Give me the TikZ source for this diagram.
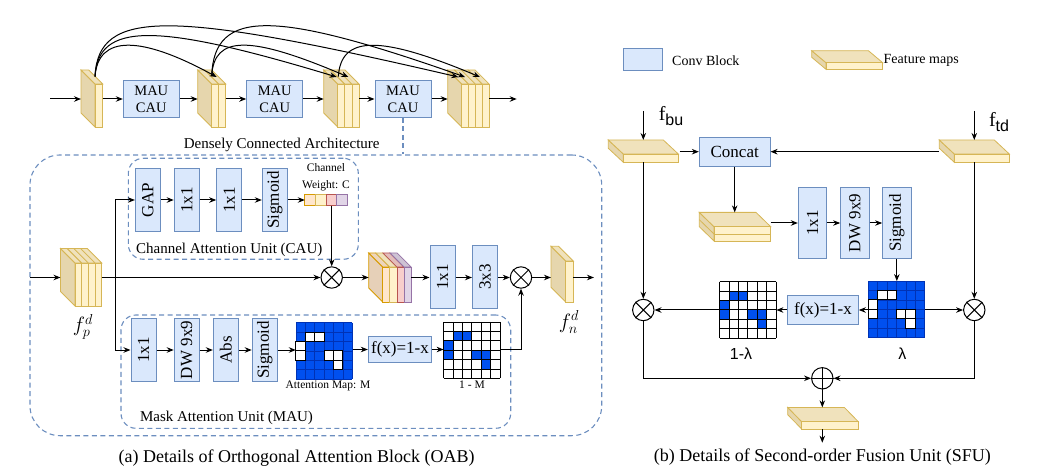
\documentclass[tikz,border=0pt]{standalone}
\usepackage{fontspec}
\usepackage{graphicx}
\setmainfont{Liberation Serif}
\newfontfamily\arial{Liberation Sans}
\usetikzlibrary{arrows.meta,calc}
\definecolor{cf}{HTML}{DAE8FC}
\definecolor{cb}{HTML}{6C8EBF}
\definecolor{fmfront}{HTML}{FFF2CC}
\definecolor{fmb}{HTML}{D6B656}
\definecolor{fmtop}{HTML}{F0E2BC}
\definecolor{fmside}{HTML}{E6D6AD}
\definecolor{cmside}{HTML}{E6D0B8}
\definecolor{orf}{HTML}{FFE6CC}\definecolor{orb}{HTML}{D79B00}\definecolor{ort}{HTML}{EDD5BC}
\definecolor{pkf}{HTML}{F8CECC}\definecolor{pkb}{HTML}{B85450}\definecolor{pkt}{HTML}{E3BDBB}
\definecolor{puf}{HTML}{E1D5E7}\definecolor{pub}{HTML}{9673A6}\definecolor{put}{HTML}{CEC3D4}
\definecolor{gblue}{HTML}{0050EF}
\definecolor{gline}{HTML}{0032B4}
\newcommand{\myfs}[2]{\fontsize{#1}{#2}\selectfont}
% feature map: #1 x0, #2 ytop, #3 ybot, #4 layer width, #5 layers, #6 dx, #7 dy
\newcommand{\fmap}[7]{%
  \filldraw[fill=fmside, draw=fmb, line width=.8pt] (#1,#2) -- ++(-#6,-#7) -- ++(0,{#3-#2}) -- (#1,#3) -- cycle;
  \foreach \li in {1,...,#5} {
    \filldraw[fill=fmtop, draw=fmb, line width=.8pt] ({#1+(\li-1)*#4},#2) -- ++(-#6,-#7) -- ++(#4,0) -- ({#1+\li*#4},#2) -- cycle;
    \filldraw[fill=fmfront, draw=fmb, line width=.8pt] ({#1+(\li-1)*#4},#2) rectangle ({#1+\li*#4},#3);
  }}
% attention grid: #1 node name, #2 = 0 for map, 1 for inverted map
\newcommand{\attgrid}[2]{%
  \begin{scope}[shift={(#1.north west)}]
  \ifnum#2=0
    \fill[gblue] (0,0) rectangle (56.4,56.4);
    \foreach \gk in {0,...,6} {
      \draw[gline, line width=.6pt] ({\gk*9.4},0) -- ({\gk*9.4},56.4);
      \draw[gline, line width=.6pt] (0,{\gk*9.4}) -- (56.4,{\gk*9.4});}
    \foreach \gr/\gc in {1/1,1/2,2/0,3/0,3/3,3/4,4/4}
      \filldraw[fill=white, draw=black, line width=.8pt] ({\gc*9.4},{\gr*9.4}) rectangle ++(9.4,9.4);
  \else
    \fill[white] (0,0) rectangle (56.4,56.4);
    \foreach \gr/\gc in {1/1,1/2,2/0,3/0,3/3,3/4,4/4}
      \fill[gblue] ({\gc*9.4},{\gr*9.4}) rectangle ++(9.4,9.4);
    \foreach \gk in {0,...,6} {
      \draw[black, line width=.7pt] ({\gk*9.4},0) -- ({\gk*9.4},56.4);
      \draw[black, line width=.7pt] (0,{\gk*9.4}) -- (56.4,{\gk*9.4});}
  \fi
  \end{scope}}
\tikzset{
  conv/.style={draw=cb, fill=cf, line width=1pt, inner sep=0pt, minimum width=25pt, minimum height=63pt, font=\myfs{17}{17}},
  arr/.style={-{Stealth[length=7pt,width=5.5pt]}, line width=1pt},
  ln/.style={line width=1pt},
  dbox/.style={draw=cb, dash pattern=on 5pt off 3.5pt, line width=1.1pt, inner sep=0pt},
  opc/.style={circle, draw, line width=1pt, minimum size=21.4pt, inner sep=0pt, fill=white},
  gridbox/.style={inner sep=0pt, minimum size=56.4pt},
  lbl/.style={inner sep=0pt, font=\myfs{15}{15}},
  small/.style={inner sep=0pt, font=\myfs{11.5}{11.5}},
  captext/.style={inner sep=0pt, font=\myfs{18}{18}},
}
\begin{document}
\begin{tikzpicture}[x=1pt,y=-1pt]
\useasboundingbox (0,0) rectangle (1037,473);

% ================= (a) top row =================
\fmap{95}{84}{127}{7.7}{1}{14}{14}
\fmap{211.7}{84}{127}{7}{2}{14}{14}
\fmap{337.7}{84}{127}{7.1}{3}{14}{14}
\fmap{461.7}{84}{127}{6.85}{4}{14}{14}
\coordinate (in0) at (50,99);
\coordinate (f1l) at (81,99);   \coordinate (f1r) at (102.7,99);
\coordinate (f2l) at (197.7,99); \coordinate (f2r) at (225.7,99);
\coordinate (f3l) at (323.7,99); \coordinate (f3r) at (359,99);
\coordinate (f4l) at (447.7,99); \coordinate (f4r) at (489.1,99);
\coordinate (out0) at (516.7,99);
\node[conv, minimum width=56pt, minimum height=36.7pt, font=\myfs{14.5}{17}, align=center] (m1) at (151.3,99) {MAU\\CAU};
\node[conv, minimum width=56pt, minimum height=36.7pt, font=\myfs{14.5}{17}, align=center] (m2) at (274.7,99) {MAU\\CAU};
\node[conv, minimum width=56pt, minimum height=36.7pt, font=\myfs{14.5}{17}, align=center] (m3) at (403,99) {MAU\\CAU};
\draw[arr] (in0) -- (f1l);
\draw[arr] (f1r) -- (m1.west);
\draw[arr] (m1.east) -- (f2l);
\draw[arr] (f2r) -- (m2.west);
\draw[arr] (m2.east) -- (f3l);
\draw[arr] (f3r) -- (m3.west);
\draw[arr] (m3.east) -- (f4l);
\draw[arr] (f4r) -- (out0);
% dense connections
\coordinate (t1) at (95,76.7);
\coordinate (t2) at (211.7,76);
\coordinate (t3) at (338.3,76.7);
\coordinate (e2) at (216.7,77);
\coordinate (e3a) at (336.7,77); \coordinate (e3b) at (348.3,77);
\coordinate (e4a) at (458.3,77); \coordinate (e4b) at (465,77); \coordinate (e4c) at (480,77);
\draw[arr] (t1) .. controls (98,8) and (170,10) .. (e4a);
\draw[arr] (t1) .. controls (98,22) and (155,22) .. (e3a);
\draw[arr] (t1) .. controls (98,35) and (140,35) .. (e2);
\draw[arr] (t2) .. controls (214,8) and (275,10) .. (e4b);
\draw[arr] (t2) .. controls (214,35) and (250,35) .. (e3b);
\draw[arr] (t3) .. controls (341,35) and (380,35) .. (e4c);
\node[lbl] (dca) at (281.7,145) {Densely Connected Architecture};

% ================= (a) OAB =================
\node[dbox, rounded corners=30pt, minimum width=571.7pt, minimum height=280.7pt] (oab) at (315.85,295.35) {};
\draw[draw=cb, dash pattern=on 5pt off 3.5pt, line width=1.1pt] (m3.south) -- (m3.south |- oab.north);
\node[dbox, rounded corners=15pt, minimum width=230pt, minimum height=101pt] (cau) at (243.3,208.8) {};
\node[dbox, rounded corners=15pt, minimum width=389.7pt, minimum height=113.3pt] (mau) at (315.85,371.65) {};

% CAU
\node[conv] (gap) at (147.9,200) {\rotatebox{90}{GAP}};
\node[conv] (c11) at (186.7,200) {\rotatebox{90}{1x1}};
\node[conv] (c12) at (229.2,200) {\rotatebox{90}{1x1}};
\node[conv] (csg) at (274.8,200) {\rotatebox{90}{Sigmoid}};
\node[inner sep=0pt, minimum width=42.7pt, minimum height=11pt] (cw) at (326.35,200) {};
\begin{scope}[shift={(cw.north west)}]
  \filldraw[fill=orf, draw=orb, line width=.8pt] (0,0) rectangle (10.67,11);
  \filldraw[fill=fmfront, draw=fmb, line width=.8pt] (10.67,0) rectangle (21.33,11);
  \filldraw[fill=pkf, draw=pkb, line width=.8pt] (21.33,0) rectangle (32,11);
  \filldraw[fill=puf, draw=pub, line width=.8pt] (32,0) rectangle (42.7,11);
\end{scope}
\node[small] (cwl1) at (326,167.3) {Channel};
\node[small] (cwl2) at (326,186) {Weight: C};
\draw[arr] (gap.east) -- (c11.west);
\draw[arr] (c11.east) -- (c12.west);
\draw[arr] (c12.east) -- (csg.west);
\draw[arr] (csg.east) -- (cw.west);
\node[lbl] (caul) at (229.2,250) {Channel Attention Unit (CAU)};

% main row
\fmap{75}{263}{306}{6.7}{4}{14.5}{14.5}
\coordinate (fpin) at (30,277.5);
\coordinate (fpl) at (60.5,277.5);
\coordinate (fpr) at (101.8,277.5);
\coordinate (br) at (115.7,277.5);
\node[opc] (o1) at (331.7,277.5) {};
\draw[line width=1pt] (o1.north west) -- (o1.south east) (o1.north east) -- (o1.south west);
\draw[arr] (fpin) -- (fpl);
\draw[arr] (fpr) -- (o1.west);
\draw[arr] (br) |- (gap.west);
\draw[arr] (o1 |- cw.south) -- (o1.north);
% concatenated coloured map
\filldraw[fill=cmside, draw=orb, line width=.8pt] (382.7,267) -- ++(-14,-14) -- ++(0,35) -- (382.7,302) -- cycle;
\foreach \li/\lf/\lt/\lb in {0/orf/ort/orb,1/fmfront/fmtop/fmb,2/pkf/pkt/pkb,3/puf/put/pub} {
  \filldraw[fill=\lt, draw=\lb, line width=.8pt] ({382.7+\li*7.1},267) -- ++(-14,-14) -- ++(7.1,0) -- ({382.7+(\li+1)*7.1},267) -- cycle;
  \filldraw[fill=\lf, draw=\lb, line width=.8pt] ({382.7+\li*7.1},267) rectangle ({382.7+(\li+1)*7.1},302);
}
\coordinate (cml) at (368.7,277.5);
\coordinate (cmr) at (411.1,277.5);
\node[conv] (b11) at (442.5,277) {\rotatebox{90}{1x1}};
\node[conv] (b33) at (485,277) {\rotatebox{90}{3x3}};
\node[opc] (o2) at (521,277.5) {};
\draw[line width=1pt] (o2.north west) -- (o2.south east) (o2.north east) -- (o2.south west);
\draw[arr] (o1.east) -- (cml);
\draw[arr] (cmr) -- (b11.west |- cmr);
\draw[arr] (b11.east |- cmr) -- (b33.west |- cmr);
\draw[arr] (b33.east |- cmr) -- (o2.west);
\fmap{565.7}{261}{302}{7.6}{1}{14.7}{14.7}
\coordinate (fnl) at (551,277.5);
\coordinate (fnr) at (573.3,277.5);
\coordinate (fnout) at (594,277.5);
\draw[arr] (o2.east) -- (fnl);
\draw[arr] (fnr) -- (fnout);
\node[inner sep=0pt, font=\myfs{20}{20}] (fpt) at (83,327) {$f_p^d$};
\node[inner sep=0pt, font=\myfs{20}{20}] (fnt) at (569,322) {$f_n^d$};

% MAU
\node[conv, minimum height=62.4pt] (a11) at (143.5,350) {\rotatebox{90}{1x1}};
\node[conv, minimum height=62.4pt] (adw) at (186.7,350) {\rotatebox{90}{DW 9x9}};
\node[conv, minimum height=62.4pt] (aab) at (225.8,350) {\rotatebox{90}{Abs}};
\node[conv, minimum height=62.4pt] (asg) at (264.7,350) {\rotatebox{90}{Sigmoid}};
\node[gridbox] (gM) at (324.2,351) {};
\attgrid{gM}{0}
\node[conv, minimum width=63.4pt, minimum height=25pt] (fx1) at (400,349.5) {f(x)=1-x};
\node[gridbox] (gIM) at (472,350.3) {};
\attgrid{gIM}{1}
\draw[arr] (br) |- (a11.west);
\draw[arr] (a11.east) -- (adw.west);
\draw[arr] (adw.east) -- (aab.west);
\draw[arr] (aab.east) -- (asg.west);
\draw[arr] (asg.east) -- (gM.west |- asg.east);
\draw[arr] (gM.east |- fx1.west) -- (fx1.west);
\draw[arr] (fx1.east) -- (gIM.west |- fx1.east);
\draw[arr] (gIM.east |- fx1.east) -| (o2.south);
\node[small, font=\myfs{11.5}{11.5}] (gMl) at (328,385.5) {Attention Map: M};
\node[small] (gIMl) at (472,385) {1 - M};
\node[lbl] (maul) at (226.5,418.3) {Mask Attention Unit (MAU)};
\node[captext] (capa) at (296.7,458) {(a) Details of Orthogonal Attention Block (OAB)};

% ================= (b) SFU =================
\node[conv, minimum width=39.4pt, minimum height=21.7pt] (lcb) at (643,59.85) {};
\node[anchor=west, inner sep=0pt, font=\myfs{14}{14}] (lcbt) at (672,60.5) {Conv Block};
\fmap{826}{62.7}{69.3}{56.7}{1}{14.3}{12}
\node[anchor=west, inner sep=0pt, font=\myfs{14}{14}] (lfmt) at (883.5,60.5) {Feature maps};

\fmap{623.3}{154}{162.3}{55}{1}{15}{14}
\fmap{954.3}{154}{162.3}{55}{1}{15}{14}
\coordinate (bui) at (643.3,111); \coordinate (butop) at (643.3,140);
\coordinate (tdi) at (974.3,111); \coordinate (tdtop) at (974.3,140);
\draw[arr] (bui) -- (butop);
\draw[arr] (tdi) -- (tdtop);
\node[inner sep=0pt] (fbul) at (671,116) {{\myfs{20}{20}f}\raisebox{-5pt}{\arial\myfs{16}{16}bu}};
\node[inner sep=0pt] (ftdl) at (999,122) {{\myfs{20}{20}f}\raisebox{-5pt}{\arial\myfs{16}{16}td}};
\node[conv, minimum width=70.7pt, minimum height=28.7pt] (cc) at (734.7,151.7) {Concat};
\coordinate (bur) at (679.5,151.7);
\coordinate (tdl) at (939,151.7);
\draw[arr] (bur) -- (cc.west);
\draw[arr] (tdl) -- (cc.east);
% two-layer slab
\filldraw[fill=fmside, draw=fmb, line width=.8pt] (714,226.7) -- (699.3,212.4) -- (699.3,226.7) -- (714,241) -- cycle;
\draw[fmb, line width=.8pt] (714,234) -- (699.3,219.7);
\filldraw[fill=fmtop, draw=fmb, line width=.8pt] (714,226.7) -- (699.3,212.4) -- (756,212.4) -- (770.7,226.7) -- cycle;
\filldraw[fill=fmfront, draw=fmb, line width=.8pt] (714,226.7) rectangle (770.7,234);
\filldraw[fill=fmfront, draw=fmb, line width=.8pt] (714,234) rectangle (770.7,241);
\coordinate (s2top) at (734.7,212.4);
\coordinate (s2r) at (770.7,223);
\draw[arr] (cc.south) -- (s2top);
\node[conv, minimum width=28.4pt, minimum height=70.6pt] (s11) at (812.5,223) {\rotatebox{90}{1x1}};
\node[conv, minimum width=28.4pt, minimum height=70.6pt] (sdw) at (854.85,223) {\rotatebox{90}{DW 9x9}};
\node[conv, minimum width=28.4pt, minimum height=70.6pt] (ssg) at (896.85,223) {\rotatebox{90}{Sigmoid}};
\draw[arr] (s2r) -- (s11.west);
\draw[arr] (s11.east) -- (sdw.west);
\draw[arr] (sdw.east) -- (ssg.west);
\node[gridbox] (gL) at (896.65,309.5) {};
\attgrid{gL}{0}
\node[gridbox] (gIL) at (748,310) {};
\attgrid{gIL}{1}
\draw[arr] (ssg.south) -- (ssg.south |- gL.north);
\node[conv, minimum width=70.6pt, minimum height=28.3pt] (fx2) at (823,310) {f(x)=1-x};
\node[opc] (oL) at (643.3,310) {};
\draw[line width=1pt] (oL.north west) -- (oL.south east) (oL.north east) -- (oL.south west);
\node[opc] (oR) at (974.3,310) {};
\draw[line width=1pt] (oR.north west) -- (oR.south east) (oR.north east) -- (oR.south west);
\coordinate (bubot) at (643.3,162.3);
\coordinate (tdbot) at (974.3,162.3);
\draw[arr] (bubot) -- (oL.north);
\draw[arr] (tdbot) -- (oR.north);
\draw[arr] (gL.west |- fx2.east) -- (fx2.east);
\draw[arr] (fx2.west) -- (gIL.east |- fx2.west);
\draw[arr] (gIL.west |- oL.east) -- (oL.east);
\draw[arr] (gL.east |- oR.west) -- (oR.west);
\node[inner sep=0pt, font=\arial\myfs{16}{16}] (l1l) at (741,354) {1-λ};
\node[inner sep=0pt, font=\arial\myfs{16}{16}] (ll) at (902.3,354) {λ};
\node[opc] (op) at (822.3,378.3) {};
\draw[line width=1pt] (op.north) -- (op.south) (op.west) -- (op.east);
\draw[arr] (oL.south) |- (op.west);
\draw[arr] (oR.south) |- (op.east);
\fmap{801.7}{421.7}{429}{56.6}{1}{14}{14.3}
\coordinate (otop) at (822.3,407.4);
\coordinate (obot) at (822.3,429);
\coordinate (oend) at (822.3,442.7);
\draw[arr] (op.south) -- (otop);
\draw[arr] (obot) -- (oend);
\node[captext] (capb) at (822.3,457) {(b) Details of Second-order Fusion Unit (SFU)};
\end{tikzpicture}
\end{document}
